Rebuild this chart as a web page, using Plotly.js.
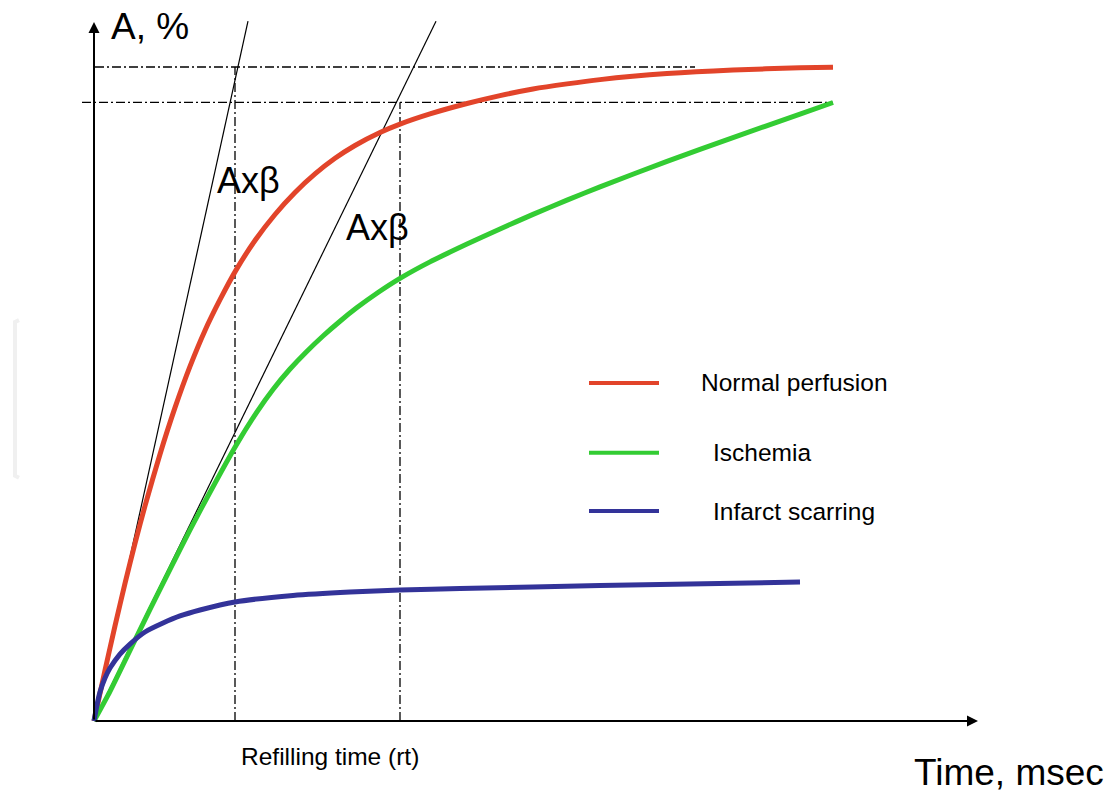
<!DOCTYPE html>
<html>
<head>
<meta charset="utf-8">
<script src="https://cdn.plot.ly/plotly-3.0.1.min.js"></script>
<style>html,body{margin:0;padding:0;background:#fff;}#chart{width:1109px;height:793px;}</style>
</head>
<body>
<div id="chart"></div>
<script>
// ---- data (time in arbitrary units, A in % of the normal plateau) ----
const seriesNames = ['Normal perfusion', 'Ischemia', 'Infarct scarring'];
const seriesColors = ['#e2442a', '#33cc33', '#333399'];

const normalX = [0, 0.11, 0.21, 0.31, 0.41, 0.51, 0.66, 0.81, 0.96, 1.11, 1.26, 1.42, 1.61, 1.81, 2.01, 2.21, 2.41, 2.61, 2.86, 3.06, 3.36, 3.73, 4.06, 4.39, 4.73, 5.06, 5.73, 6.39, 7.06, 7.39];
const normalY = [0, 7.74, 14.54, 21.04, 27.16, 32.89, 40.80, 47.91, 54.22, 59.72, 64.42, 68.94, 73.47, 77.45, 80.81, 83.65, 86.04, 88.00, 89.98, 91.27, 92.83, 94.42, 95.63, 96.64, 97.42, 98.07, 98.99, 99.54, 99.88, 99.97];

const ischemiaX = [0, 0.16, 0.36, 0.56, 0.76, 0.96, 1.16, 1.42, 1.63, 1.79, 1.96, 2.12, 2.29, 2.46, 2.63, 2.84, 3.06, 3.36, 3.73, 4.06, 4.39, 4.73, 5.06, 5.73, 6.39, 7.06, 7.39];
const ischemiaY = [0, 4.53, 10.80, 17.06, 23.18, 29.24, 34.98, 42.14, 47.28, 50.70, 53.82, 56.39, 58.87, 61.13, 63.21, 65.52, 67.68, 70.20, 72.92, 75.24, 77.46, 79.65, 81.67, 85.57, 89.20, 92.80, 94.57];

const infarctX = [0, 0.03, 0.06, 0.11, 0.16, 0.26, 0.36, 0.51, 0.69, 0.86, 1.06, 1.41, 1.99, 2.56, 3.06, 3.66, 5.06, 7.06];
const infarctY = [0, 2.45, 4.43, 6.57, 8.10, 10.24, 11.77, 13.61, 14.98, 16.06, 16.97, 18.20, 19.19, 19.72, 20.03, 20.26, 20.72, 21.25];

// initial-slope tangents (A x beta), from origin to these ends
const tangentEndX = [1.54, 3.42];
const tangentEndY = [107.0, 107.0];
const tangentLabel = 'Axβ';
const tangentLabelX = [1.54, 2.83];
const tangentLabelY = [82.6, 75.4];

// plateau levels (dash-dot horizontals) and refilling times (dash-dot verticals)
const plateauLevels = [100, 94.6];
const plateauStartX = [0.01, -0.12];
const plateauEndX = [6.01, 7.39];
const refillTimes = [1.41, 3.06];
const refillTop = [100, 94.6];

// axes extents
const xAxisTip = 8.84;
const yAxisTip = 106.9;
const xAxisTitle = 'Time, msec';
const yAxisTitle = 'A, %';
const refillLabel = 'Refilling time (rt)';

// legend placement (data units)
const legendLineX = [4.95, 5.65];
const legendY = [51.7, 41.0, 32.1];
const legendTextX = [6.05, 6.17, 6.17];

// ---- build ----
const FONT = 'Liberation Sans, Arial, sans-serif';
const traces = [
  {x: normalX, y: normalY, name: seriesNames[0]},
  {x: ischemiaX, y: ischemiaY, name: seriesNames[1]},
  {x: infarctX, y: infarctY, name: seriesNames[2]}
].map((t, i) => Object.assign(t, {
  type: 'scatter', mode: 'lines', showlegend: false, hoverinfo: 'skip',
  line: {color: seriesColors[i], width: 5, shape: 'spline', smoothing: 0.6}
}));

const DD = '9px,3px,2px,3px';
const shapes = [];
tangentEndX.forEach((ex, i) => shapes.push({
  type: 'line', xref: 'x', yref: 'y', x0: 0, y0: 0, x1: ex, y1: tangentEndY[i],
  line: {color: '#000', width: 1.2}, layer: 'below'
}));
plateauLevels.forEach((lv, i) => shapes.push({
  type: 'line', xref: 'x', yref: 'y', x0: plateauStartX[i], x1: plateauEndX[i], y0: lv, y1: lv,
  line: {color: '#000', width: 1.3, dash: DD}, layer: 'below'
}));
refillTimes.forEach((rt, i) => shapes.push({
  type: 'line', xref: 'x', yref: 'y', x0: rt, x1: rt, y0: 0, y1: refillTop[i],
  line: {color: '#000', width: 1.3, dash: DD}, layer: 'below'
}));
legendY.forEach((ly, i) => shapes.push({
  type: 'line', xref: 'x', yref: 'y', x0: legendLineX[0], x1: legendLineX[1], y0: ly, y1: ly,
  line: {color: seriesColors[i], width: 4}
}));
shapes.push({
  type: 'path', xref: 'x', yref: 'y',
  path: 'M -0.75 61.3 L -0.79 61.0 L -0.79 37.5 L -0.75 37.2',
  line: {color: '#f0f0f0', width: 4}, layer: 'below'
});

const annotations = [
  {x: 0, y: yAxisTip, ax: 0, ay: 0, axref: 'x', ayref: 'y', xref: 'x', yref: 'y', text: '',
   showarrow: true, arrowhead: 2, arrowsize: 1.1, arrowwidth: 2, arrowcolor: '#000', standoff: 0},
  {x: xAxisTip, y: 0, ax: 0, ay: 0, axref: 'x', ayref: 'y', xref: 'x', yref: 'y', text: '',
   showarrow: true, arrowhead: 2, arrowsize: 1.1, arrowwidth: 2, arrowcolor: '#000', standoff: 0},
  {x: 0.15, y: 106.2, xref: 'x', yref: 'y', text: yAxisTitle, showarrow: false,
   xanchor: 'left', yanchor: 'middle', font: {family: FONT, size: 37, color: '#000'}},
  {x: 10.12, y: -7.85, xref: 'x', yref: 'y', text: xAxisTitle, showarrow: false,
   xanchor: 'right', yanchor: 'middle', font: {family: FONT, size: 37, color: '#000'}},
  {x: 2.36, y: -5.5, xref: 'x', yref: 'y', text: refillLabel, showarrow: false,
   xanchor: 'center', yanchor: 'middle', font: {family: FONT, size: 24.5, color: '#000'}}
];
tangentLabelX.forEach((tx, i) => annotations.push({
  x: tx, y: tangentLabelY[i], xref: 'x', yref: 'y', text: tangentLabel, showarrow: false,
  xanchor: 'center', yanchor: 'middle', font: {family: FONT, size: 36, color: '#000'}
}));
seriesNames.forEach((nm, i) => annotations.push({
  x: legendTextX[i], y: legendY[i], xref: 'x', yref: 'y', text: nm, showarrow: false,
  xanchor: 'left', yanchor: 'middle', font: {family: FONT, size: 24.5, color: '#000'}
}));

const layout = {
  width: 1109, height: 793,
  margin: {l: 0, r: 0, t: 0, b: 0, pad: 0},
  paper_bgcolor: '#fff', plot_bgcolor: '#fff',
  showlegend: false,
  xaxis: {range: [-0.94, 10.15], visible: false, fixedrange: true},
  yaxis: {range: [-11.009, 110.245], visible: false, fixedrange: true},
  shapes: shapes,
  annotations: annotations
};

Plotly.newPlot('chart', traces, layout, {staticPlot: true, displayModeBar: false});
</script>
</body>
</html>
